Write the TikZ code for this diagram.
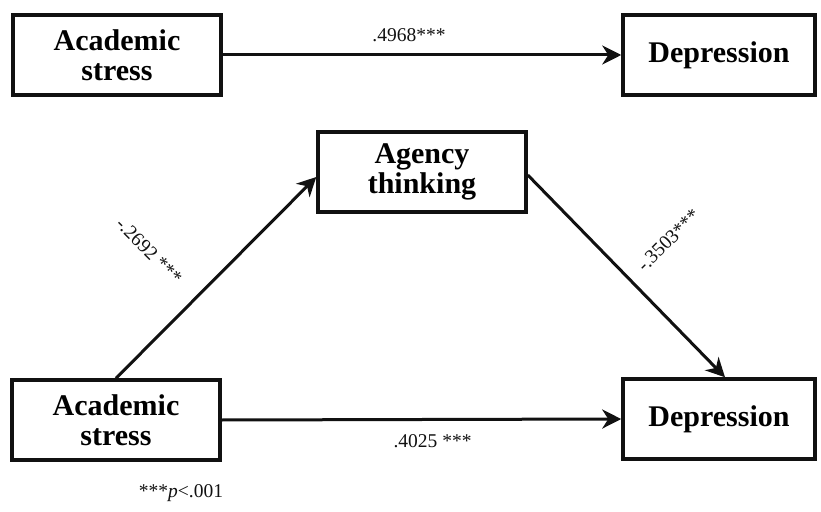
\documentclass[tikz,border=0pt]{standalone}
\usepackage{fontspec}
\setmainfont{Liberation Serif}
\usepackage{tikz}
\usepackage{xcolor}
\definecolor{ink}{HTML}{111111}
\usetikzlibrary{arrows.meta,positioning,calc}

\begin{document}
\begin{tikzpicture}[
        x=1bp, y=-1bp,
        var/.style   = {draw=ink, line width=3.5bp, align=center, inner sep=0pt,
                        minimum width=208bp, minimum height=80bp,
                        font=\fontsize{30bp}{30bp}\selectfont\bfseries},
        outc/.style  = {var, minimum width=192bp},
        coef/.style  = {text=ink, font=\fontsize{19.5bp}{20bp}\selectfont},
        link/.style  = {-{Stealth[length=19bp, width=19bp, inset=6bp]}, line width=3bp, ink}
    ]
        \useasboundingbox (0,0) rectangle (821,512);

        % ---- total effect ----
        \node[var]  (as1) at (117,55) {Academic\\stress};
        \node[outc] (dp1) at (719,55) {Depression};
        \draw[link] (as1.east) -- (dp1.west)
            node[coef, midway, above=8bp, xshift=-13bp] {.4968***};

        % ---- mediation ----
        \node[var]  (ag)  at (422,172) {Agency\\thinking};
        \node[var]  (as2) at (116,420) {Academic\\stress};
        \node[outc] (dp2) at (719,419) {Depression};

        \draw[link] (as2.north) -- ([yshift=-5bp]ag.west)
            node[coef, pos=0.4, xshift=-47bp, yshift=47bp, rotate=-45] {-.2692 ***};
        \draw[link] ([yshift=-3bp]ag.east) -- ([xshift=6bp]dp2.north)
            node[coef, pos=0.51, xshift=40bp, yshift=38bp, rotate=45] {-.3503***};
        \draw[link] (as2.east) -- (dp2.west)
            node[coef, midway, below=10bp, xshift=11bp] {.4025 ***};

        % ---- note ----
        \node[coef] (note) at (181,493) {***\textit{p}<.001};
    \end{tikzpicture}
\end{document}
